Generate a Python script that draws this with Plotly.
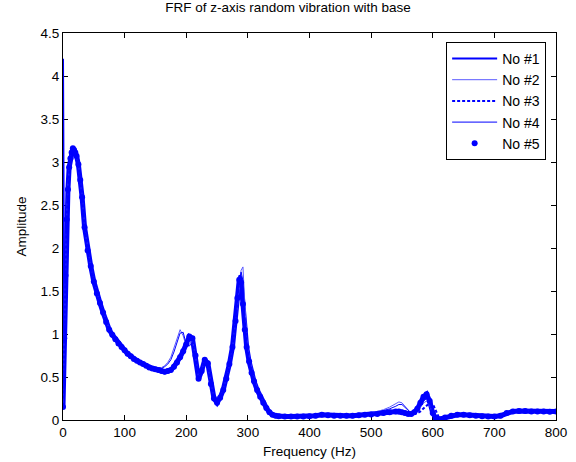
import plotly.graph_objects as go

freq = [
    0, 2, 4, 6, 8, 10, 12, 14, 16, 18,
    20, 22, 25, 28, 31, 35, 40, 45, 50, 55,
    60, 65, 70, 75, 80, 85, 90, 95, 100, 105,
    110, 115, 120, 125, 130, 135, 140, 145, 150, 155,
    160, 165, 170, 175, 180, 185, 190, 195, 200, 205,
    210, 215, 220, 225, 230, 235, 240, 245, 250, 255,
    260, 265, 270, 275, 280, 283, 286, 289, 292, 295,
    298, 302, 306, 310, 315, 320, 325, 330, 335, 340,
    345, 350, 360, 370, 380, 390, 400, 410, 420, 430,
    440, 450, 460, 470, 480, 490, 500, 510, 520, 530,
    540, 545, 550, 555, 560, 565, 570, 575, 580, 585,
    590, 595, 600, 605, 610, 620, 630, 640, 650, 660,
    670, 680, 690, 700, 710, 720, 730, 740, 750, 760,
    770, 780, 790, 800,
]

no1 = [
    4.20, 1.00, 1.72, 2.35, 2.70, 2.95, 3.05, 3.12, 3.17, 3.15,
    3.12, 3.08, 2.98, 2.80, 2.60, 2.25, 1.98, 1.80, 1.62, 1.48,
    1.37, 1.26, 1.15, 1.06, 1.00, 0.95, 0.90, 0.86, 0.82, 0.78,
    0.75, 0.72, 0.70, 0.68, 0.66, 0.64, 0.62, 0.61, 0.60, 0.59,
    0.58, 0.57, 0.57, 0.59, 0.63, 0.68, 0.74, 0.81, 0.89, 0.98,
    0.94, 0.74, 0.50, 0.58, 0.70, 0.66, 0.42, 0.25, 0.20, 0.26,
    0.35, 0.48, 0.65, 0.86, 1.18, 1.45, 1.68, 1.66, 1.40, 1.08,
    0.87, 0.69, 0.56, 0.46, 0.36, 0.27, 0.20, 0.14, 0.09, 0.06,
    0.05, 0.045, 0.04, 0.04, 0.04, 0.04, 0.045, 0.05, 0.06, 0.055,
    0.05, 0.05, 0.05, 0.05, 0.055, 0.06, 0.065, 0.07, 0.08, 0.09,
    0.10, 0.10, 0.09, 0.08, 0.07, 0.07, 0.09, 0.13, 0.20, 0.26,
    0.29, 0.21, 0.08, 0.02, 0.01, 0.03, 0.05, 0.06, 0.06, 0.055,
    0.05, 0.045, 0.04, 0.04, 0.05, 0.08, 0.10, 0.105, 0.105, 0.10,
    0.10, 0.10, 0.095, 0.10,
]

no2 = [
    0.20, 1.05, 1.75, 2.38, 2.72, 2.96, 3.06, 3.12, 3.16, 3.14,
    3.11, 3.07, 2.97, 2.80, 2.60, 2.26, 1.99, 1.80, 1.62, 1.48,
    1.37, 1.26, 1.15, 1.06, 1.00, 0.95, 0.90, 0.86, 0.82, 0.78,
    0.75, 0.72, 0.70, 0.68, 0.66, 0.64, 0.63, 0.62, 0.61, 0.61,
    0.61, 0.63, 0.67, 0.73, 0.83, 0.95, 1.05, 0.98, 0.86, 0.88,
    0.92, 0.74, 0.50, 0.58, 0.70, 0.66, 0.42, 0.25, 0.20, 0.26,
    0.35, 0.48, 0.64, 0.84, 1.10, 1.32, 1.55, 1.74, 1.78, 1.30,
    0.95, 0.74, 0.60, 0.49, 0.38, 0.29, 0.21, 0.15, 0.10, 0.06,
    0.05, 0.045, 0.04, 0.04, 0.04, 0.04, 0.045, 0.05, 0.06, 0.055,
    0.05, 0.05, 0.05, 0.05, 0.06, 0.07, 0.08, 0.10, 0.12, 0.15,
    0.19, 0.21, 0.20, 0.16, 0.11, 0.08, 0.08, 0.10, 0.15, 0.20,
    0.22, 0.17, 0.07, 0.02, 0.01, 0.03, 0.05, 0.06, 0.06, 0.055,
    0.05, 0.045, 0.04, 0.04, 0.05, 0.08, 0.10, 0.105, 0.105, 0.10,
    0.10, 0.10, 0.095, 0.10,
]

no3 = [
    0.25, 1.02, 1.70, 2.33, 2.68, 2.93, 3.04, 3.10, 3.14, 3.13,
    3.10, 3.06, 2.96, 2.79, 2.59, 2.24, 1.97, 1.79, 1.61, 1.47,
    1.36, 1.25, 1.14, 1.05, 0.99, 0.94, 0.89, 0.85, 0.81, 0.77,
    0.74, 0.71, 0.69, 0.67, 0.65, 0.63, 0.61, 0.60, 0.59, 0.58,
    0.57, 0.56, 0.57, 0.58, 0.62, 0.67, 0.73, 0.80, 0.88, 0.96,
    0.93, 0.73, 0.49, 0.57, 0.69, 0.65, 0.41, 0.24, 0.19, 0.25,
    0.34, 0.47, 0.63, 0.84, 1.14, 1.40, 1.64, 1.68, 1.42, 1.10,
    0.88, 0.70, 0.57, 0.47, 0.37, 0.28, 0.20, 0.14, 0.09, 0.06,
    0.05, 0.045, 0.04, 0.04, 0.04, 0.04, 0.045, 0.05, 0.06, 0.055,
    0.05, 0.05, 0.05, 0.05, 0.055, 0.06, 0.065, 0.07, 0.08, 0.09,
    0.10, 0.10, 0.10, 0.09, 0.08, 0.07, 0.07, 0.08, 0.10, 0.13,
    0.17, 0.20, 0.19, 0.10, 0.03, 0.03, 0.05, 0.06, 0.06, 0.055,
    0.05, 0.045, 0.04, 0.04, 0.05, 0.08, 0.10, 0.105, 0.105, 0.10,
    0.10, 0.10, 0.095, 0.10,
]

no4 = [
    0.18, 1.00, 1.70, 2.34, 2.69, 2.94, 3.05, 3.11, 3.15, 3.14,
    3.11, 3.07, 2.97, 2.80, 2.60, 2.25, 1.98, 1.80, 1.62, 1.48,
    1.37, 1.26, 1.15, 1.06, 1.00, 0.95, 0.90, 0.86, 0.82, 0.78,
    0.75, 0.72, 0.70, 0.68, 0.66, 0.64, 0.63, 0.62, 0.61, 0.60,
    0.60, 0.62, 0.65, 0.70, 0.79, 0.90, 1.01, 1.02, 0.88, 0.86,
    0.90, 0.74, 0.50, 0.58, 0.70, 0.66, 0.42, 0.25, 0.20, 0.26,
    0.35, 0.48, 0.64, 0.85, 1.12, 1.36, 1.60, 1.72, 1.62, 1.20,
    0.92, 0.72, 0.58, 0.48, 0.37, 0.28, 0.21, 0.15, 0.10, 0.06,
    0.05, 0.045, 0.04, 0.04, 0.04, 0.04, 0.045, 0.05, 0.06, 0.055,
    0.05, 0.05, 0.05, 0.05, 0.06, 0.07, 0.08, 0.09, 0.11, 0.13,
    0.16, 0.18, 0.18, 0.15, 0.11, 0.08, 0.08, 0.10, 0.16, 0.22,
    0.25, 0.18, 0.07, 0.02, 0.01, 0.03, 0.05, 0.06, 0.06, 0.055,
    0.05, 0.045, 0.04, 0.04, 0.05, 0.08, 0.10, 0.105, 0.105, 0.10,
    0.10, 0.10, 0.095, 0.10,
]

no5 = [
    0.15, 0.95, 1.68, 2.33, 2.68, 2.94, 3.04, 3.11, 3.16, 3.14,
    3.11, 3.07, 2.97, 2.79, 2.59, 2.24, 1.97, 1.79, 1.61, 1.47,
    1.36, 1.25, 1.14, 1.05, 0.99, 0.94, 0.89, 0.85, 0.81, 0.77,
    0.74, 0.71, 0.69, 0.67, 0.65, 0.63, 0.61, 0.60, 0.59, 0.58,
    0.57, 0.56, 0.57, 0.58, 0.62, 0.67, 0.73, 0.80, 0.88, 0.97,
    0.95, 0.75, 0.48, 0.57, 0.70, 0.66, 0.42, 0.25, 0.20, 0.26,
    0.35, 0.48, 0.65, 0.85, 1.15, 1.42, 1.63, 1.60, 1.35, 1.05,
    0.85, 0.68, 0.55, 0.45, 0.35, 0.27, 0.20, 0.14, 0.09, 0.06,
    0.05, 0.045, 0.04, 0.04, 0.04, 0.04, 0.045, 0.05, 0.06, 0.055,
    0.05, 0.05, 0.05, 0.05, 0.055, 0.06, 0.065, 0.07, 0.08, 0.09,
    0.10, 0.10, 0.09, 0.08, 0.07, 0.07, 0.09, 0.13, 0.20, 0.27,
    0.30, 0.22, 0.08, 0.02, 0.01, 0.03, 0.05, 0.06, 0.06, 0.055,
    0.05, 0.045, 0.04, 0.04, 0.05, 0.08, 0.10, 0.105, 0.105, 0.10,
    0.10, 0.10, 0.095, 0.10,
]

names = ["No #1", "No #2", "No #3", "No #4", "No #5"]
BLUE = "#0000ff"
FONT = "Liberation Sans, Arial, sans-serif"

fig = go.Figure()
# dense marker band of No #5 (the sampled points are packed so tightly they merge)
fig.add_trace(go.Scatter(x=freq, y=no5, mode="lines", showlegend=False,
                         hoverinfo="skip",
                         line=dict(color=BLUE, width=5)))
fig.add_trace(go.Scatter(x=freq, y=no1, name=names[0], mode="lines",
                         line=dict(color=BLUE, width=2)))
fig.add_trace(go.Scatter(x=freq, y=no2, name=names[1], mode="lines",
                         line=dict(color="#5a5aff", width=1)))
fig.add_trace(go.Scatter(x=freq, y=no3, name=names[2], mode="lines",
                         line=dict(color=BLUE, width=2, dash="3px,2px")))
fig.add_trace(go.Scatter(x=freq, y=no4, name=names[3], mode="lines",
                         line=dict(color=BLUE, width=1)))
fig.add_trace(go.Scatter(x=freq, y=no5, name=names[4], mode="markers",
                         marker=dict(color=BLUE, size=6, line=dict(width=0))))

axis_common = dict(
    showline=True, linecolor="black", linewidth=1, mirror="ticks",
    ticks="inside", ticklen=5, tickcolor="black", tickwidth=1,
    showgrid=False, zeroline=False, automargin=False,
    layer="below traces",
    tickfont=dict(family=FONT, size=13.5, color="black"),
)

fig.update_layout(
    width=576, height=462,
    paper_bgcolor="white", plot_bgcolor="white",
    margin=dict(l=63, r=20, t=33, b=42),
    title=dict(text="FRF of z-axis random vibration with base",
               x=0.5, xanchor="center", y=0.995, yanchor="top",
               font=dict(family=FONT, size=13.5, color="black")),
    xaxis=dict(range=[0, 800], dtick=100, tick0=0,
               title=dict(text="Frequency (Hz)", standoff=7,
                          font=dict(family=FONT, size=13.5, color="black")),
               **axis_common),
    yaxis=dict(range=[0, 4.5], dtick=0.5, tick0=0,
               title=dict(text="Amplitude", standoff=10,
                          font=dict(family=FONT, size=13.5, color="black")),
               **axis_common),
    legend=dict(x=0.98, y=0.977, xanchor="right", yanchor="top",
                bgcolor="white", bordercolor="black", borderwidth=1,
                font=dict(family=FONT, size=14, color="black"),
                itemwidth=45, tracegroupgap=0),
    showlegend=True,
)

fig.write_html("out.html",
               config={"displayModeBar": False},
               post_script="document.body.style.margin='0';document.body.style.overflow='hidden';")
